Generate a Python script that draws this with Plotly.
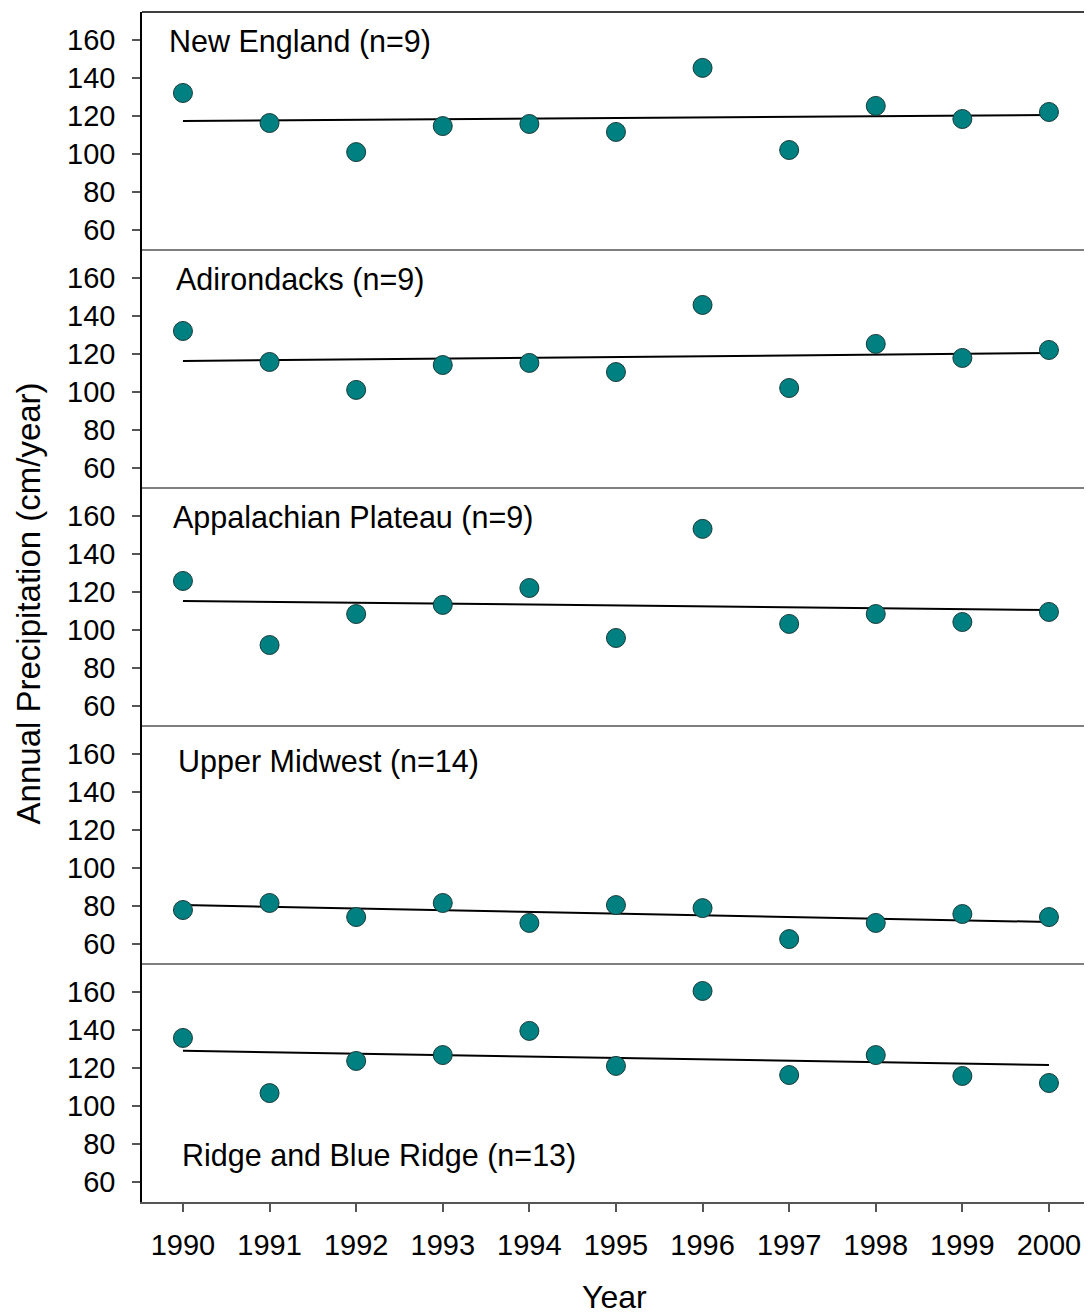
import plotly.graph_objects as go
from plotly.subplots import make_subplots

years = [1990, 1991, 1992, 1993, 1994, 1995, 1996, 1997, 1998, 1999, 2000]
regions = ["New England (n=9)", "Adirondacks (n=9)", "Appalachian Plateau (n=9)",
           "Upper Midwest (n=14)", "Ridge and Blue Ridge (n=13)"]

new_england = [132.1, 116.3, 101.0, 114.7, 115.8, 111.6, 145.3, 102.1, 125.3, 118.4, 122.1]
adirondacks = [132.1, 115.8, 101.1, 114.2, 115.3, 110.5, 145.8, 102.1, 125.3, 117.9, 122.1]
appalachian = [125.8, 92.1, 108.4, 113.2, 122.1, 95.8, 153.2, 103.2, 108.4, 104.2, 109.5]
upper_midwest = [77.9, 81.6, 74.2, 81.6, 71.1, 80.5, 78.9, 62.6, 71.1, 75.8, 74.2]
ridge_blue = [135.8, 106.8, 123.7, 126.8, 139.5, 121.1, 160.5, 116.3, 126.8, 115.8, 112.1]

trend_start = [117.4, 116.3, 115.3, 80.5, 129.0]
trend_end = [120.5, 120.5, 110.5, 71.6, 121.6]

series = [new_england, adirondacks, appalachian, upper_midwest, ridge_blue]
y_ticks = [60, 80, 100, 120, 140, 160]

label_x = [0.0258, 0.0342, 0.0300, 0.0353, 0.0405]
label_y = [0.874, 0.874, 0.878, 0.849, 0.194]

FONT = "Liberation Sans, Arial, sans-serif"

fig = make_subplots(rows=5, cols=1, shared_xaxes=True, vertical_spacing=0)

for i, vals in enumerate(series):
    r = i + 1
    fig.add_trace(go.Scatter(x=[years[0], years[-1]], y=[trend_start[i], trend_end[i]],
                             mode="lines", line=dict(color="black", width=2),
                             showlegend=False, hoverinfo="skip"), row=r, col=1)
    fig.add_trace(go.Scatter(x=years, y=vals, mode="markers",
                             marker=dict(size=19, color="#008080",
                                         line=dict(color="#1a3a3a", width=1)),
                             showlegend=False), row=r, col=1)
    fig.update_yaxes(range=[49.5, 174.7], tickvals=y_ticks, ticks="outside", ticklen=8,
                     tickcolor="#555", tickwidth=1.5, showline=True, linecolor="black",
                     linewidth=1.5, showgrid=False, zeroline=False,
                     tickfont=dict(family=FONT, size=29, color="black"),
                     ticklabelstandoff=11, row=r, col=1)
    yref = "y" if r == 1 else f"y{r}"
    fig.add_annotation(text=regions[i], xref="x domain", yref=f"{yref} domain",
                       x=label_x[i], y=label_y[i], xanchor="left", yanchor="middle",
                       showarrow=False, font=dict(family=FONT, size=30.5, color="black"))
    fig.add_shape(type="line", xref="x domain", yref=f"{yref} domain",
                  x0=0, x1=1, y0=1, y1=1,
                  line=dict(color="black" if r == 1 else "#555", width=1.5))

fig.update_xaxes(range=[1989.527, 2000.497], tickvals=years, showgrid=False,
                 zeroline=False)
fig.update_xaxes(ticks="outside", ticklen=8, tickcolor="#555", tickwidth=1.5,
                 showline=True, linecolor="#555", linewidth=1.5,
                 tickfont=dict(family=FONT, size=29, color="black"),
                 ticklabelstandoff=8, row=5, col=1)

fig.add_annotation(text="Annual Precipitation (cm/year)", xref="paper", yref="paper",
                   x=-0.12, y=0.503, textangle=-90, showarrow=False,
                   xanchor="center", yanchor="middle",
                   font=dict(family=FONT, size=33, color="black"))
fig.add_annotation(text="Year", xref="paper", yref="paper",
                   x=0.497, y=-0.080, showarrow=False, xanchor="center", yanchor="middle",
                   font=dict(family=FONT, size=32, color="black"))

fig.update_layout(width=1084, height=1308, plot_bgcolor="white", paper_bgcolor="white",
                  margin=dict(l=134, r=0, t=4, b=114))

fig.write_html("out.html")
